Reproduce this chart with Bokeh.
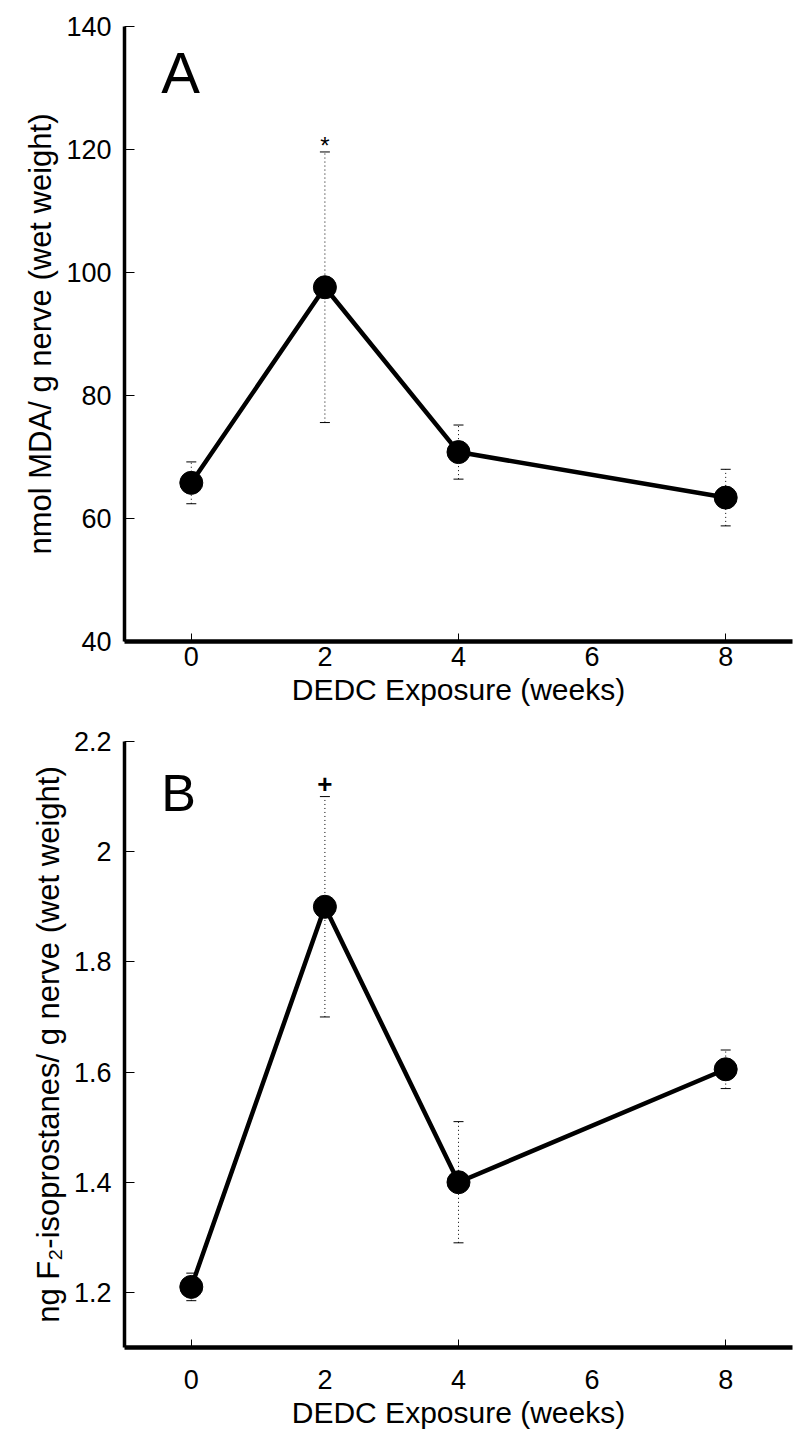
from bokeh.plotting import figure
from bokeh.models import FixedTicker, Label, Whisker, ColumnDataSource, TeeHead, Range1d
from bokeh.layouts import column
from bokeh.embed import file_html
from bokeh.resources import INLINE
from bokeh.core.properties import value

# ---------------- data ----------------
weeks = [0, 2, 4, 8]

mda_mean = [65.8, 97.6, 70.8, 63.4]
mda_sem = [3.4, 22.0, 4.4, 4.6]
mda_sig = ["", "*", "", ""]

iso_mean = [1.21, 1.90, 1.40, 1.605]
iso_sem = [0.025, 0.20, 0.11, 0.035]
iso_sig = ["", "+", "", ""]

x_ticks = [0, 2, 4, 6, 8]
x_tick_labels = ["0", "2", "4", "6", "8"]
x_tick_marks = [0, 4, 8]

mda_ticks = [40, 60, 80, 100, 120, 140]
mda_tick_labels = ["40", "60", "80", "100", "120", "140"]
iso_ticks = [1.2, 1.4, 1.6, 1.8, 2.0, 2.2]
iso_tick_labels = ["1.2", "1.4", "1.6", "1.8", "2", "2.2"]

x_label = "DEDC Exposure (weeks)"
mda_label = "nmol MDA/ g nerve (wet weight)"
iso_label = "ng F\u2082-isoprostanes/ g nerve (wet weight)"

FONT = "Liberation Sans"


def make_panel(height, b_top, b_bottom, yr, yticks, ylabels, ylabel, means, sems,
               sig, sig_size, sig_style, sig_off, letter, letter_xy, letter_size,
               x_standoff):
    p = figure(width=798, height=height, x_range=Range1d(-1, 9), y_range=Range1d(*yr),
               output_backend="svg", toolbar_location=None,
               min_border_left=124, min_border_right=6,
               min_border_top=b_top, min_border_bottom=b_bottom)
    p.outline_line_color = None
    p.grid.visible = False
    p.background_fill_color = "white"

    # x axis
    xa = p.xaxis[0]
    xa.ticker = FixedTicker(ticks=x_ticks, minor_ticks=x_tick_marks)
    xa.major_label_overrides = {t: l for t, l in zip(x_ticks, x_tick_labels)}
    xa.major_tick_line_color = None
    xa.major_tick_in = 0
    xa.major_tick_out = 0
    xa.minor_tick_in = 8
    xa.minor_tick_out = 0
    xa.minor_tick_line_width = 1
    xa.minor_tick_line_color = "black"
    xa.axis_line_width = 4.5
    xa.axis_line_color = "black"
    xa.major_label_text_font = FONT
    xa.major_label_text_font_size = "27px"
    xa.major_label_text_color = "black"
    xa.major_label_standoff = x_standoff
    xa.axis_label = x_label
    xa.axis_label_text_font = FONT
    xa.axis_label_text_font_size = "30px"
    xa.axis_label_text_font_style = "normal"
    xa.axis_label_text_color = "black"
    xa.axis_label_standoff = 4

    # y axis
    ya = p.yaxis[0]
    ya.ticker = FixedTicker(ticks=yticks, minor_ticks=[])
    ya.major_label_overrides = {t: l for t, l in zip(yticks, ylabels)}
    ya.major_tick_in = 10
    ya.major_tick_out = 0
    ya.major_tick_line_width = 1
    ya.major_tick_line_color = "black"
    ya.axis_line_width = 3.5
    ya.axis_line_color = "black"
    ya.major_label_text_font = FONT
    ya.major_label_text_font_size = "27px"
    ya.major_label_text_color = "black"
    ya.major_label_standoff = 13
    ya.axis_label = ylabel
    ya.axis_label_text_font = FONT
    ya.axis_label_text_font_size = "31px"
    ya.axis_label_text_font_style = "normal"
    ya.axis_label_text_color = "black"
    ya.axis_label_standoff = 5

    src = ColumnDataSource(dict(
        x=weeks, y=means,
        lo=[m - s for m, s in zip(means, sems)],
        hi=[m + s for m, s in zip(means, sems)],
        sig=sig,
    ))

    w = Whisker(base="x", lower="lo", upper="hi", source=src, level="underlay",
                line_color="black", line_width=1, line_dash="1 3",
                upper_head=TeeHead(size=10, line_width=1, line_color="black"),
                lower_head=TeeHead(size=10, line_width=1, line_color="black"))
    p.add_layout(w)

    p.line("x", "y", source=src, line_color="black", line_width=4.5)
    p.scatter("x", "y", source=src, marker="circle", size=23,
              fill_color="black", line_color="black")

    p.text("x", "hi", text="sig", source=src, text_font=value(FONT),
           text_font_size=sig_size, text_font_style=sig_style,
           text_align="center", text_baseline="middle", y_offset=sig_off,
           text_color="black")

    p.add_layout(Label(x=letter_xy[0], y=letter_xy[1], text=letter,
                       text_font=FONT, text_font_size=letter_size,
                       text_baseline="alphabetic", text_color="black"))
    return p


pA = make_panel(720, 26, 79, (40, 140), mda_ticks, mda_tick_labels, mda_label,
                mda_mean, mda_sem, mda_sig, "24px", "normal", -6,
                "A", (-0.45, 132.5), "58px", 5)
pB = make_panel(726, 21, 99, (1.1, 2.2), iso_ticks, iso_tick_labels, iso_label,
                iso_mean, iso_sem, iso_sig, "26px", "bold", -13,
                "B", (-0.45, 2.107), "52px", 22)

layout = column(pA, pB, spacing=0)
open("out.html", "w").write(file_html(layout, INLINE))
